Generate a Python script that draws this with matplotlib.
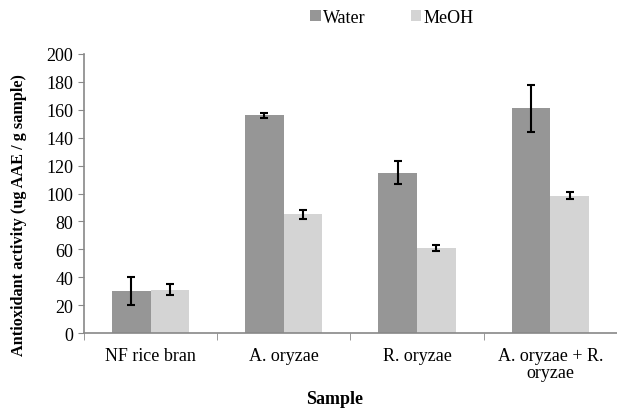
import numpy as np
import matplotlib.pyplot as plt

plt.rcParams['font.family'] = ['Liberation Serif', 'DejaVu Serif']

samples = ["NF rice bran", "A. oryzae", "R. oryzae", "A. oryzae + R.\noryzae"]
water = [30, 156, 115, 161]
water_err = [10, 2, 8.5, 17]
meoh = [31, 85, 61, 98.5]
meoh_err = [4, 3.5, 2, 2.5]

fig = plt.figure(figsize=(6.17, 4.10), dpi=100)
ax = fig.add_axes([0.136, 0.185, 0.864, 0.681])

x = np.arange(len(samples))
w = 0.29
ekw = dict(elinewidth=1.5, capthick=1.5, ecolor='black')
ax.bar(x - w/2, water, w, yerr=water_err, capsize=3, color='#969696',
       label='Water', error_kw=ekw)
ax.bar(x + w/2, meoh, w, yerr=meoh_err, capsize=3, color='#d4d4d4',
       label='MeOH', error_kw=ekw)

ax.set_xlim(-0.5, len(samples) - 0.5)
ax.set_ylim(0, 200)
ax.set_yticks(range(0, 201, 20))
ax.set_xticks(x)
ax.set_xticklabels(samples, fontsize=13, linespacing=1.0)
ax.tick_params(axis='x', length=0, pad=10)
ax.set_xticks(np.arange(-0.5, len(samples)), minor=True)
ax.tick_params(axis='x', which='minor', length=5, color='#888888')
ax.tick_params(axis='y', labelsize=13, length=4, color='#888888')

for s in ['top', 'right']:
    ax.spines[s].set_visible(False)
for s in ['left', 'bottom']:
    ax.spines[s].set_color('#888888')
    ax.spines[s].set_linewidth(1.2)

fig.text(0.543, 0.025, 'Sample', fontsize=13, fontweight='bold',
         ha='center', va='center')
fig.text(0.03, 0.475, 'Antioxidant activity (ug AAE / g sample)',
         fontsize=11.7, fontweight='bold', rotation=90,
         ha='center', va='center')

fig.legend(*ax.get_legend_handles_labels(), loc='center',
           bbox_to_anchor=(0.635, 0.955), ncol=2, frameon=False,
           fontsize=13, handlelength=0.6, handleheight=0.6,
           handletextpad=0.1, columnspacing=2.5)

fig.savefig('out.png', dpi=100)
